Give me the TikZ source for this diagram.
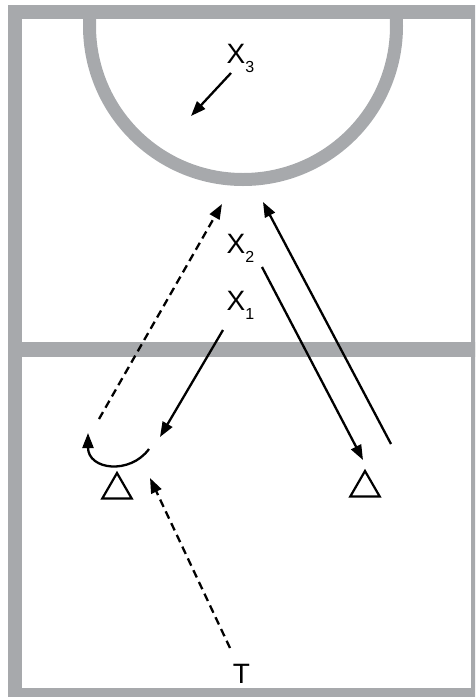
\documentclass[tikz,border=0pt]{standalone}
\usepackage{fontspec}
\setmainfont{Liberation Sans}
\usetikzlibrary{arrows.meta,shapes.geometric}
\definecolor{court}{RGB}{167,169,172}
\begin{document}
\begin{tikzpicture}[x=1pt,y=-1pt,
  courtline/.style={draw=court,line width=14pt},
  lbl/.style={font=\fontsize{28}{28}\selectfont,inner sep=0pt},
  pass/.style={line width=2.3pt,-{Triangle[length=15pt,width=11pt]}},
  dashpass/.style={pass,dash pattern=on 8pt off 5pt},
  cone/.style={draw,regular polygon,regular polygon sides=3,minimum size=34pt,inner sep=0pt,line width=2.2pt}]
\useasboundingbox (0,0) rectangle (475,697);
% goal semicircle
\begin{scope}
  \clip (15,11.5) rectangle (478,695);
  \draw[draw=court,line width=13pt] (243,26) circle[radius=153.5];
\end{scope}
% court frame and half-way line
\begin{scope}
  \clip (0,0) rectangle (475,697);
  \draw[courtline] (15,11.5) rectangle (478,695);
  \draw[draw=court,line width=15pt] (15,349) -- (478,349);
\end{scope}
% labels
\newcommand{\subnum}[1]{\raisebox{-9pt}{\fontsize{16}{16}\selectfont #1}}
\node[lbl,anchor=base west] (x3) at (226.5,63) {X\subnum{3}};
\node[lbl,anchor=base west] (x2) at (226.5,253) {X\subnum{2}};
\node[lbl,anchor=base west] (x1) at (226.5,310) {X\subnum{1}};
\node[lbl,anchor=base] (t) at (241.5,683) {T};
% cones
\node[cone] (c1) at (117,490) {};
\node[cone] (c2) at (365,488) {};
% arrow end points
\coordinate (x3s) at (231,73);   \coordinate (x3e) at (191,116);
\coordinate (ds)  at (99,419);   \coordinate (de)  at (222,204);
\coordinate (us)  at (391,444);  \coordinate (ue)  at (263,202);
\coordinate (x2s) at (262,267);  \coordinate (x2e) at (363,460);
\coordinate (x1s) at (223,330);  \coordinate (x1e) at (160,437);
\coordinate (cs)  at (149,449);  \coordinate (ce)  at (88,433);
\coordinate (ts)  at (230,648);  \coordinate (te)  at (150,478);
% passes and runs
\draw[pass] (x3s) -- (x3e);
\draw[dashpass] (ds) -- (de);
\draw[pass] (us) -- (ue);
\draw[pass] (x2s) -- (x2e);
\draw[pass] (x1s) -- (x1e);
\draw[pass] (cs) .. controls (130,475) and (88,470) .. (ce);
\draw[dashpass] (ts) -- (te);
\end{tikzpicture}
\end{document}
